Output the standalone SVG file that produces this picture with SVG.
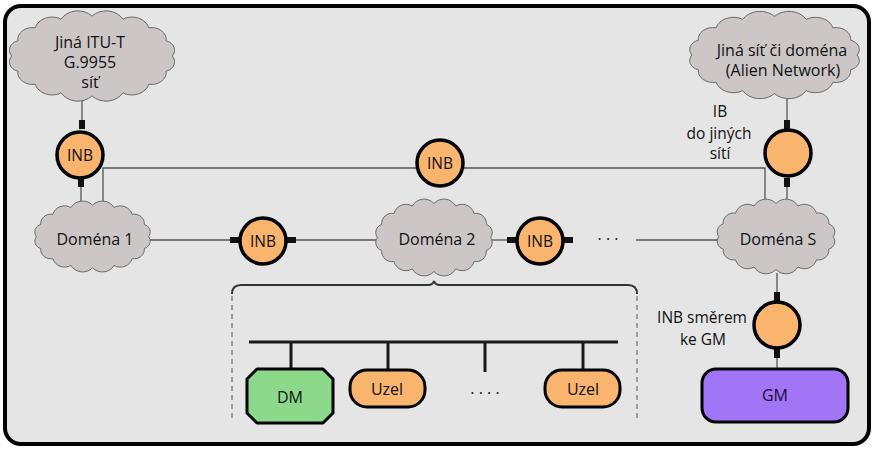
<svg xmlns="http://www.w3.org/2000/svg" xmlns:xlink="http://www.w3.org/1999/xlink" width="877" height="456" viewBox="0 0 877 456">
<style>
text{font-family:"Open Sans","Noto Sans","Liberation Sans",sans-serif;font-size:16px;fill:#111;text-anchor:middle}
.sm{font-size:15.5px}
.cloud{fill:#ccc6c7;stroke:#6a6a6a;stroke-width:1}
.line{stroke:#555;stroke-width:1.3;fill:none}
.inb{fill:#f9b46d;stroke:#000;stroke-width:3.5}
.stub{fill:#111}
.bus{stroke:#1a1a1a;stroke-width:3;fill:none}
.dash{stroke:#555;stroke-width:1;stroke-dasharray:5 4;fill:none}
</style>
<defs>
<path id="cloud" vector-effect="non-scaling-stroke" d="M55,0 A8.2,8.2 0 0 1 50.8,12.6 A10,10 0 0 1 38.9,23.3 A12,12 0 0 1 21.1,30.5 A13,13 0 0 1 0,33 A13,13 0 0 1 -21.1,30.5 A12,12 0 0 1 -38.9,23.3 A10,10 0 0 1 -50.8,12.6 A8.2,8.2 0 0 1 -55,0 A8.2,8.2 0 0 1 -50.8,-12.6 A10,10 0 0 1 -38.9,-23.3 A12,12 0 0 1 -21.1,-30.5 A13,13 0 0 1 0,-33 A13,13 0 0 1 21.1,-30.5 A12,12 0 0 1 38.9,-23.3 A10,10 0 0 1 50.8,-12.6 A8.2,8.2 0 0 1 55,0 Z"/>
</defs>
<rect x="5" y="6" width="864" height="438" rx="16" fill="#e5e5e5" stroke="#000" stroke-width="4"/>

<g id="connectors">
<line class="line" x1="82" y1="100" x2="82" y2="128"/>
<line class="line" x1="81" y1="182" x2="81" y2="206"/>
<polyline class="line" points="103,204 103,168 765,168 765,202"/>
<line class="line" x1="787" y1="98" x2="787" y2="126"/>
<line class="line" x1="787" y1="182" x2="787" y2="204"/>
<line class="line" x1="150" y1="240" x2="240" y2="240"/>
<line class="line" x1="288" y1="240" x2="376" y2="240"/>
<line class="line" x1="492" y1="240" x2="515" y2="240"/>
<line class="line" x1="636" y1="240" x2="717" y2="240"/>
<line class="line" x1="777" y1="273" x2="777" y2="300"/>
<line class="line" x1="777" y1="352" x2="777" y2="369"/>
<path fill="none" stroke="#333" stroke-width="2" d="M232,294 Q232,285 241,285 L428,285 Q433,285 434,281 Q435,285 440,285 L628,285 Q637,285 637,294"/>
<line class="dash" x1="232" y1="296" x2="232" y2="420"/>
<line class="dash" x1="637" y1="296" x2="637" y2="420"/>
<line class="bus" x1="249" y1="342" x2="618" y2="342"/>
<line class="bus" x1="291" y1="342" x2="291" y2="370"/>
<line class="bus" x1="388" y1="342" x2="388" y2="370"/>
<line class="bus" x1="485" y1="342" x2="485" y2="372"/>
<line class="bus" x1="583" y1="342" x2="583" y2="370"/>
</g>

<g id="cloud-itu">
<use xlink:href="#cloud" href="#cloud" class="cloud" transform="translate(92,56) scale(1.46,1.21)"/>
<text x="90" y="48">Jiná ITU-T</text>
<text x="90" y="68">G.9955</text>
<text x="90" y="88">síť</text>
</g>
<g id="cloud-alien">
<use xlink:href="#cloud" href="#cloud" class="cloud" transform="translate(774.5,55) scale(1.5,1.17)"/>
<text x="782" y="56">Jiná síť či doména</text>
<text x="783" y="76">(Alien Network)</text>
</g>
<g id="domena1">
<use xlink:href="#cloud" href="#cloud" class="cloud" transform="translate(92.5,236.5) scale(1.02,0.95)"/>
<text x="95" y="245">Doména 1</text>
</g>
<g id="domena2">
<use xlink:href="#cloud" href="#cloud" class="cloud" transform="translate(434,237.5) scale(1.03,1.03)"/>
<text x="437" y="245">Doména 2</text>
</g>
<g id="domenaS">
<use xlink:href="#cloud" href="#cloud" class="cloud" transform="translate(776,236.5) scale(1.04,1)"/>
<text x="778" y="245">Doména S</text>
</g>

<g id="inb1">
<rect class="stub" x="79" y="120" width="6" height="9"/>
<rect class="stub" x="78" y="178" width="6" height="9"/>
<circle class="inb" cx="80" cy="155" r="23"/>
<text class="sm" x="80" y="161">INB</text>
</g>
<g id="inb-top">
<circle class="inb" cx="440" cy="163" r="23"/>
<text class="sm" x="440" y="169">INB</text>
</g>
<g id="inb2">
<rect class="stub" x="230" y="237" width="9" height="6"/>
<rect class="stub" x="287" y="237" width="9" height="6"/>
<circle class="inb" cx="263" cy="241" r="23"/>
<text class="sm" x="263" y="247">INB</text>
</g>
<g id="inb3">
<rect class="stub" x="507" y="237" width="9" height="6"/>
<rect class="stub" x="564" y="237" width="9" height="6"/>
<circle class="inb" cx="540" cy="241" r="23"/>
<text class="sm" x="540" y="247">INB</text>
</g>
<text x="608" y="245">· · ·</text>
<g id="ib">
<rect class="stub" x="784" y="120" width="6" height="9"/>
<rect class="stub" x="784" y="178" width="6" height="9"/>
<circle class="inb" cx="788" cy="153" r="23"/>
<text class="sm" x="720" y="117">IB</text>
<text class="sm" x="719" y="139">do jiných</text>
<text class="sm" x="720" y="159">sítí</text>
</g>
<g id="inb-gm">
<rect class="stub" x="774" y="292" width="6" height="9"/>
<rect class="stub" x="774" y="349" width="6" height="9"/>
<circle class="inb" cx="777" cy="325" r="23"/>
<text class="sm" x="702" y="323">INB směrem</text>
<text class="sm" x="703" y="345">ke GM</text>
</g>
<g id="gm">
<rect x="702" y="369" width="146" height="53" rx="14" fill="#a274f6" stroke="#000" stroke-width="3"/>
<text x="775" y="401" style="fill:#1a0a33">GM</text>
</g>
<g id="dm">
<path d="M257,369 L323,369 L333,379 L333,413 L323,423 L257,423 L247,413 L247,379 Z" fill="#8cd98c" stroke="#000" stroke-width="3" stroke-linejoin="round"/>
<text x="290" y="403">DM</text>
</g>
<g id="uzel1">
<rect x="350" y="370" width="75" height="37" rx="17" fill="#f9b46d" stroke="#000" stroke-width="3"/>
<text x="387" y="395">Uzel</text>
</g>
<text x="485" y="394">. . . .</text>
<g id="uzel2">
<rect x="545" y="370" width="75" height="37" rx="17" fill="#f9b46d" stroke="#000" stroke-width="3"/>
<text x="583" y="395">Uzel</text>
</g>
</svg>
